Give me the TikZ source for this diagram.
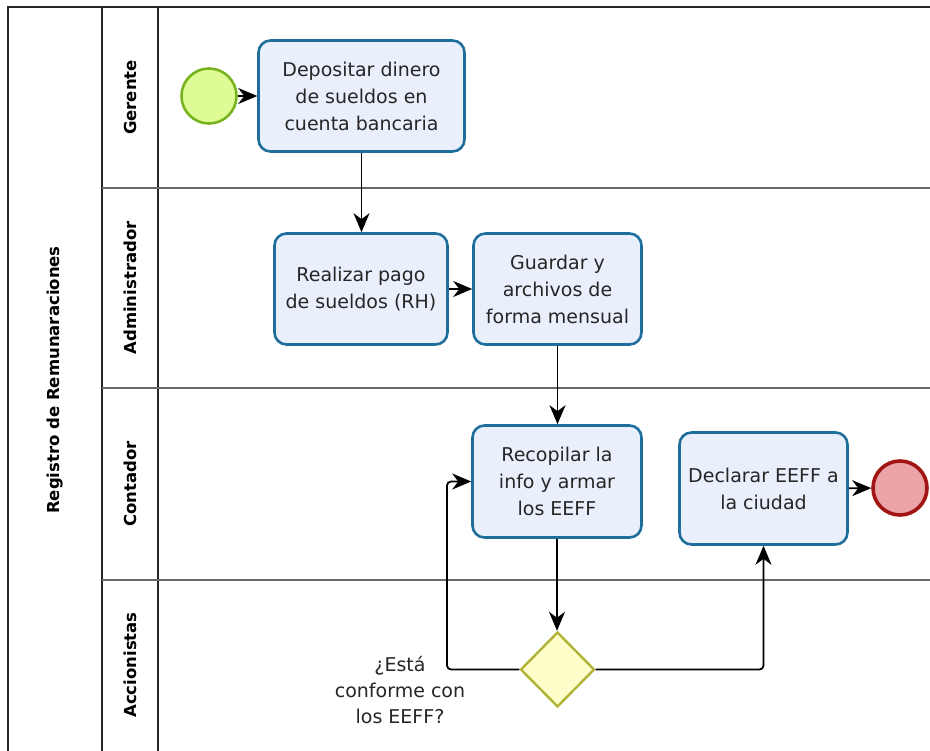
\documentclass[tikz,border=0pt]{standalone}
\usepackage{fontspec}
\setmainfont{DejaVu Sans}
\usetikzlibrary{shapes.geometric,arrows.meta}
\definecolor{taskfill}{HTML}{EAEFFC}
\definecolor{taskline}{HTML}{1E6E9C}
\definecolor{startfill}{HTML}{DFFB93}
\definecolor{startline}{HTML}{78B420}
\definecolor{endfill}{HTML}{EBA5A6}
\definecolor{endline}{HTML}{A31515}
\definecolor{gwfill}{HTML}{FEFECB}
\definecolor{gwline}{HTML}{B2B236}
\definecolor{laneline}{HTML}{6A6A6A}
\tikzset{
  taskbox/.style={draw=taskline, fill=taskfill, line width=2.6pt, rounded corners=12pt,
    align=center, inner sep=0pt, font=\fontsize{19}{27}\selectfont, text=black!85},
  startev/.style={circle, draw=startline, fill=startfill, line width=2.6pt, minimum size=55pt, inner sep=0pt},
  endev/.style={circle, draw=endline, fill=endfill, line width=3.6pt, minimum size=54pt, inner sep=0pt},
  gateway/.style={diamond, draw=gwline, fill=gwfill, line width=2.4pt, minimum width=74pt, minimum height=75pt, inner sep=0pt},
  flow/.style={draw=black, line width=1.8pt, -{Stealth[length=19pt,width=16pt,inset=6pt]}},
  lanelabel/.style={rotate=90, font=\bfseries\fontsize{16.5}{20}\selectfont},
  poolline/.style={draw=black!85, line width=1.4pt},
  sepline/.style={draw=laneline, line width=1.8pt},
  note/.style={align=center, font=\fontsize{19}{26}\selectfont, text=black!85}
}
\begin{document}
\begin{tikzpicture}[x=1pt,y=-1pt]
\useasboundingbox (0,0) rectangle (930,751);
\fill[white] (0,0) rectangle (930,751);
% pool and lanes
\draw[poolline] (930,7) -- (8,7) -- (8,751);
\draw[poolline] (102,7) -- (102,751);
\draw[poolline] (158,7) -- (158,751);
\draw[sepline] (102,188) -- (930,188);
\draw[sepline] (102,388) -- (930,388);
\draw[sepline] (102,580) -- (930,580);
\node[lanelabel] (pool) at (55,380) {Registro de Remunaraciones};
\node[lanelabel] (l1) at (130,97.5) {Gerente};
\node[lanelabel] (l2) at (130,288) {Administrador};
\node[lanelabel] (l3) at (130,484) {Contador};
\node[lanelabel] (l4) at (130,665) {Accionistas};
% nodes
\node[startev] (start) at (209,96) {};
\node[taskbox, minimum width=206pt, minimum height=111pt] (t1) at (361.5,96) {Depositar dinero\\de sueldos en\\cuenta bancaria};
\node[taskbox, minimum width=173pt, minimum height=111pt] (t2) at (361,289) {Realizar pago\\de sueldos (RH)};
\node[taskbox, minimum width=168pt, minimum height=111pt] (t3) at (557.5,289) {Guardar y\\archivos de\\forma mensual};
\node[taskbox, minimum width=169pt, minimum height=112pt] (t4) at (557,481.5) {Recopilar la\\info y armar\\los EEFF};
\node[taskbox, minimum width=168pt, minimum height=112pt] (t5) at (763.5,488.5) {Declarar EEFF a\\la ciudad};
\node[endev] (end) at (900,488) {};
\node[gateway] (gw) at (557.5,669.5) {};
\node[note] (q) at (400,690) {¿Está\\conforme con\\los EEFF?};
% flows
\draw[flow] (start) -- (t1);
\draw[flow] (t1.south) -- (t1.south |- t2.north);
\draw[flow] (t2) -- (t3);
\draw[flow] (t3.south) -- (t3.south |- t4.north);
\draw[flow] (t4.south) -- (t4.south |- gw.north);
\coordinate (loop) at (447,481.5);
\draw[flow, rounded corners=4pt] (gw.west) -| (loop) -- (t4.west);
\draw[flow, rounded corners=4pt] (gw.east) -| (t5.south);
\draw[flow] (t5) -- (end);
\end{tikzpicture}
\end{document}
